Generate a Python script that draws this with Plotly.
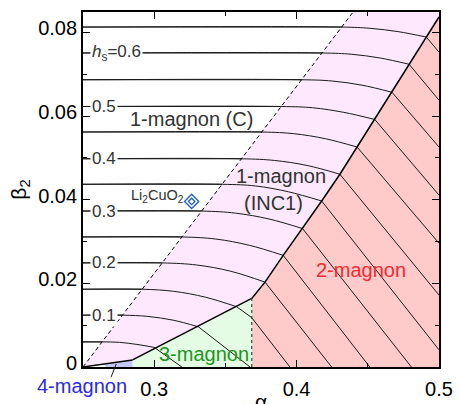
import plotly.graph_objects as go

# ---------------- data ----------------
# saturation-field contour levels h_s (every 0.05)
hs_levels = [0.05, 0.10, 0.15, 0.20, 0.25, 0.30, 0.35, 0.40, 0.45, 0.50, 0.55, 0.60, 0.65]
# beta2 of each contour in the commensurate (C) region (horizontal lines)
beta_C = [0.0060, 0.0124, 0.0186, 0.0249, 0.0311, 0.0373, 0.0437, 0.0498, 0.0562, 0.0623, 0.0687, 0.0751, 0.0813]
# alpha where each contour meets the C / INC1 (dashed) boundary
alpha_dash = [0.2634, 0.2777, 0.2916, 0.3057, 0.3196, 0.3334, 0.3478, 0.3614, 0.3757, 0.3894, 0.4037, 0.4180, 0.4319]
# two intermediate points on each curved INC1 part
alpha_p1 = [0.2756, 0.2955, 0.3137, 0.3297, 0.3433, 0.3570, 0.3711, 0.3844, 0.3980, 0.4112, 0.4248, 0.4383, 0.4516]
beta_p1 = [0.0059, 0.0121, 0.0181, 0.0244, 0.0306, 0.0368, 0.0433, 0.0494, 0.0558, 0.0620, 0.0684, 0.0748, 0.0810]
alpha_p2 = [0.2878, 0.3133, 0.3359, 0.3538, 0.3669, 0.3806, 0.3943, 0.4074, 0.4202, 0.4331, 0.4459, 0.4587, 0.4714]
beta_p2 = [0.0054, 0.0112, 0.0167, 0.0229, 0.0291, 0.0354, 0.0419, 0.0482, 0.0546, 0.0609, 0.0674, 0.0739, 0.0802]
# where each contour reaches the multi-magnon boundary
alpha_bnd = [0.3000, 0.3311, 0.3580, 0.3778, 0.3906, 0.4042, 0.4176, 0.4304, 0.4425, 0.4549, 0.4670, 0.4790, 0.4911]
beta_bnd = [0.0047, 0.0096, 0.0144, 0.0203, 0.0267, 0.0331, 0.0397, 0.0461, 0.0526, 0.0592, 0.0657, 0.0724, 0.0789]
# kink where a contour crosses the 3-magnon / 2-magnon (dotted) line
alpha_kink = [None, None, 0.3685, None, None, None, None, None, None, None, None, None, None]
beta_kink = [None, None, 0.0118, None, None, None, None, None, None, None, None, None, None]
# end of each straight multi-magnon part (frame edge)
alpha_end = [0.3194, 0.3673, 0.3953, 0.4246, 0.4514, 0.4806, 0.5, 0.5, 0.5, 0.5, 0.5, 0.5, 0.5]
beta_end = [0.0, 0.0, 0.0, 0.0, 0.0, 0.0, 0.0041, 0.0172, 0.0296, 0.0411, 0.0526, 0.0638, 0.0753]

# phase boundaries
dash_alpha = [0.25, 0.4397]
dash_beta = [0.0, 0.0849]
b12_alpha = [0.3685, 0.3778, 0.3906, 0.4042, 0.4176, 0.4304, 0.4425, 0.4549, 0.4670, 0.4790, 0.4911, 0.5]
b12_beta = [0.0164, 0.0203, 0.0267, 0.0331, 0.0397, 0.0461, 0.0526, 0.0592, 0.0657, 0.0724, 0.0789, 0.0837]
b13_alpha = [0.2848, 0.3685]
b13_beta = [0.0017, 0.0164]
b14_alpha = [0.25, 0.2848]
b14_beta = [0.0, 0.0017]
b23_alpha = [0.3685, 0.3685]
b23_beta = [0.0, 0.0164]
m4_alpha_left = 0.2657
m4_beta_left = 0.0008

# axis ranges / ticks
x_range = [0.25, 0.5]
y_range = [0.0, 0.0849]
x_ticks = [0.3, 0.4, 0.5]
x_ticklabels = ["0.3", "0.4", "0.5"]
y_ticks = [0.0, 0.02, 0.04, 0.06, 0.08]
y_ticklabels = ["0", "0.02", "0.04", "0.06", "0.08"]

# contour labels
label_beta = [0.0124, 0.0249, 0.0373, 0.0498, 0.0623, 0.0751]
label_text = ["0.1", "0.2", "0.3", "0.4", "0.5", "<i>h</i><sub>s</sub>=0.6"]

# material point
li_alpha = [0.3263]
li_beta = [0.0396]

# ---------------- figure ----------------
PINK = "#fde8fd"
RED = "#ffcaca"
GREEN = "#e4fce4"
BLUE = "#c3c8f6"
FONT = "Liberation Sans, Arial, sans-serif"
TXT = "#333333"
LC = "#1a1a1a"

fig = go.Figure()

def fill(xs, ys, color):
    fig.add_trace(go.Scatter(x=xs, y=ys, mode="lines", fill="toself", fillcolor=color,
                             line=dict(width=0), hoverinfo="skip", showlegend=False))

# INC1 (pink) region
pink_x = [dash_alpha[0], dash_alpha[1], x_range[1]] + b12_alpha[::-1] + b13_alpha[::-1] + b14_alpha[::-1]
pink_y = [dash_beta[0], dash_beta[1], y_range[1]] + b12_beta[::-1] + b13_beta[::-1] + b14_beta[::-1]
fill(pink_x, pink_y, PINK)
# 2-magnon (red)
red_x = b12_alpha + [x_range[1], b23_alpha[0]]
red_y = b12_beta + [0.0, 0.0]
fill(red_x, red_y, RED)
# 3-magnon (green)
green_x = [b13_alpha[0]] + b13_alpha + [b23_alpha[0]]
green_y = [0.0] + b13_beta + [0.0]
fill(green_x, green_y, GREEN)
# 4-magnon (blue)
blue_x = [m4_alpha_left, m4_alpha_left, b14_alpha[1], b14_alpha[1]]
blue_y = [0.0, m4_beta_left, b14_beta[1], 0.0]
fill(blue_x, blue_y, BLUE)

def line(xs, ys, width=1.0, dash="solid", color="black", shape="linear"):
    fig.add_trace(go.Scatter(x=xs, y=ys, mode="lines",
                             line=dict(width=width, color=color, dash=dash, shape=shape),
                             hoverinfo="skip", showlegend=False))

# contours
for i in range(len(hs_levels)):
    line([x_range[0], alpha_dash[i]], [beta_C[i], beta_C[i]], width=1.0, color=LC)
    line([x_range[0], alpha_dash[i], alpha_p1[i], alpha_p2[i], alpha_bnd[i]],
         [beta_C[i], beta_C[i], beta_p1[i], beta_p2[i], beta_bnd[i]],
         width=1.0, color=LC, shape="spline")
    xs = [alpha_bnd[i]]
    ys = [beta_bnd[i]]
    if alpha_kink[i] is not None:
        xs.append(alpha_kink[i])
        ys.append(beta_kink[i])
    xs.append(alpha_end[i])
    ys.append(beta_end[i])
    line(xs, ys, width=1.0, color=LC)

# phase boundaries
line(dash_alpha, dash_beta, width=1.0, dash="4px,3px")
line(b12_alpha, b12_beta, width=1.5)
line(b13_alpha, b13_beta, width=1.5)
line(b14_alpha, b14_beta, width=1.5)
line(b23_alpha, b23_beta, width=1.2, dash="dot", color="#444444")

# Li2CuO2 marker
fig.add_trace(go.Scatter(x=li_alpha, y=li_beta, mode="markers",
                         marker=dict(symbol="diamond-open", size=11, color="#2060c0", line=dict(width=1.3)),
                         hoverinfo="skip", showlegend=False))
fig.add_trace(go.Scatter(x=li_alpha, y=li_beta, mode="markers",
                         marker=dict(symbol="diamond-open", size=5, color="#2060c0", line=dict(width=1.3)),
                         hoverinfo="skip", showlegend=False))

ann = []
for b, t in zip(label_beta, label_text):
    ann.append(dict(x=0.2552, y=b, xref="x", yref="y", text=t, showarrow=False,
                    xanchor="left", yanchor="middle", bgcolor="white", borderpad=1,
                    font=dict(family=FONT, size=17, color=TXT)))

def label(x, y, t, color=TXT, size=20, xref="x", yref="y", xanchor="center", yanchor="middle"):
    ann.append(dict(x=x, y=y, xref=xref, yref=yref, text=t, showarrow=False,
                    xanchor=xanchor, yanchor=yanchor, font=dict(family=FONT, size=size, color=color)))

label(0.3259, 0.0592, "1-magnon (C)")
label(0.3887, 0.0456, "1-magnon")
label(0.3836, 0.0392, "(INC1)")
label(0.4455, 0.0232, "2-magnon", color="#f52a30")
label(0.3351, 0.0030, "3-magnon", color="#1e961e")
label(-0.002, -0.0535, "4-magnon", color="#2a2ae6", xref="paper", yref="paper")
label(0.3221, 0.0408, "Li<sub>2</sub>CuO<sub>2</sub>", size=14.5, xanchor="right")
# x-axis title (placed like the reference, partly below the window edge)
label(0.5, -0.059, "α", color="black", size=21, xref="paper", yref="paper", yanchor="top")

fig.update_layout(
    width=460, height=404,
    margin=dict(l=83, r=21, t=12, b=37, autoexpand=False),
    paper_bgcolor="white", plot_bgcolor="white",
    font=dict(family=FONT, size=20, color="black"),
    annotations=ann,
    shapes=[dict(type="line", xref="paper", yref="paper", x0=0.0935, y0=0.0084, x1=0.0786, y1=-0.029,
                 line=dict(color=LC, width=1))],
)
fig.update_xaxes(range=x_range, tickvals=x_ticks, ticktext=x_ticklabels,
                 ticks="inside", ticklen=7, tickwidth=1.3, tickcolor="black",
                 showline=True, linecolor="black", linewidth=1.8, mirror="ticks",
                 showgrid=False, zeroline=False,
                 minor=dict(tickvals=[0.35, 0.45], ticks="inside", ticklen=4, tickcolor="black", showgrid=False),
                 tickfont=dict(family=FONT, size=20, color="black"),
                 ticklabelstandoff=3,
                 automargin=False)
fig.update_yaxes(range=y_range, tickvals=y_ticks, ticktext=y_ticklabels,
                 ticks="inside", ticklen=7, tickwidth=1.3, tickcolor="black",
                 showline=True, linecolor="black", linewidth=1.8, mirror="ticks",
                 showgrid=False, zeroline=False,
                 minor=dict(tickvals=[0.01, 0.03, 0.05, 0.07], ticks="inside", ticklen=4, tickcolor="black", showgrid=False),
                 tickfont=dict(family=FONT, size=20, color="black"),
                 ticklabelshift=-4,
                 title=dict(text="β<sub>2</sub>", font=dict(family=FONT, size=21, color="black"), standoff=6),
                 automargin=False)

fig.write_html("out.html", config={"displayModeBar": False},
               post_script="document.body.style.margin='0';document.body.style.overflow='hidden';")
